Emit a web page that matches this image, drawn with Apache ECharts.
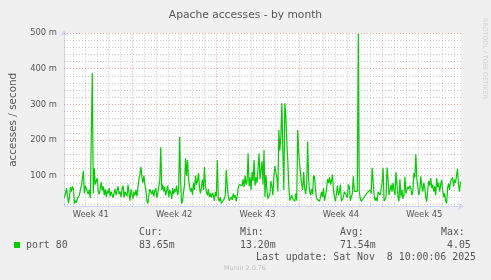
<!DOCTYPE html>
<html>
<head>
<meta charset="utf-8">
<script src="https://cdn.jsdelivr.net/npm/echarts@6/dist/echarts.min.js"></script>
<style>
html,body{margin:0;padding:0;background:#f0f0f0;}
#chart{width:491px;height:280px;}
</style>
</head>
<body>
<div id="chart"></div>
<script>
// ---- data ----
const chartTitle = 'Apache accesses - by month';
const yAxisTitle = 'accesses / second';
const weekLabels = ['Week 41', 'Week 42', 'Week 43', 'Week 44', 'Week 45'];
const yTickValues = [100, 200, 300, 400, 500];
const yTickLabels = ['100 m', '200 m', '300 m', '400 m', '500 m'];
const seriesName = 'port 80';
const legendHeads = ['Cur:', 'Min:', 'Avg:', 'Max:'];
const legendValues = ['83.65m', '13.20m', '71.54m', '4.05'];
const lastUpdate = 'Last update: Sat Nov  8 10:00:06 2025';
const footer = 'Munin 2.0.76';
const watermark = 'RRDTOOL / TOBI OETIKER';
// time axis in hours since Sun Oct 5 2025 00:00, one sample per 2 hours
const startHour = 30;
const stepHours = 2;
const endHour = 830;
const yMin = 13.2, yMax = 500;
// accesses per second, in milli units
const accesses = [
  37, 50, 65, 60, 22, 40, 68, 55, 70, 62,
  22, 30, 24, 37, 35, 45, 60, 72, 90, 114,
  50, 72, 68, 55, 48, 60, 37, 42, 388, 50,
  121, 75, 85, 93, 55, 48, 62, 82, 58, 70,
  45, 62, 40, 58, 50, 65, 42, 55, 60, 38,
  52, 63, 45, 58, 70, 48, 55, 40, 65, 72,
  38, 55, 60, 42, 75, 50, 30, 62, 48, 35,
  55, 45, 60, 42, 68, 90, 105, 125, 95, 80,
  100, 75, 60, 30, 22, 45, 62, 55, 48, 60,
  42, 58, 65, 38, 50, 70, 85, 180, 60, 75,
  55, 68, 45, 50, 72, 40, 60, 52, 35, 65,
  48, 62, 55, 72, 45, 60, 208, 80, 22, 30,
  55, 75, 149, 100, 144, 90, 70, 55, 65, 45,
  80, 60, 100, 75, 85, 107, 65, 50, 70, 88,
  60, 125, 72, 55, 45, 62, 40, 50, 38, 52,
  45, 30, 55, 42, 144, 35, 28, 40, 22, 25,
  22, 35, 45, 116, 70, 42, 30, 25, 40, 32,
  50, 38, 45, 28, 42, 65, 75, 70, 80, 72,
  90, 68, 100, 75, 85, 163, 70, 95, 60, 110,
  85, 144, 72, 95, 80, 120, 163, 90, 115, 140,
  75, 172, 40, 102, 60, 35, 30, 50, 85, 70,
  45, 100, 127, 110, 93, 55, 228, 170, 210, 303,
  168, 60, 303, 270, 196, 140, 70, 30, 28, 45,
  35, 40, 28, 50, 30, 228, 165, 130, 100, 75,
  60, 110, 65, 48, 75, 196, 90, 55, 45, 62,
  48, 102, 95, 58, 35, 30, 37, 28, 30, 55,
  40, 65, 30, 45, 60, 90, 80, 95, 75, 85,
  103, 60, 40, 28, 50, 72, 45, 55, 75, 28,
  30, 40, 55, 60, 45, 38, 75, 68, 30, 28,
  50, 98, 56, 56, 56, 56, 498, 56, 35, 28,
  30, 25, 40, 45, 38, 52, 48, 56, 60, 50,
  122, 85, 45, 30, 38, 28, 55, 60, 45, 62,
  80, 122, 28, 25, 40, 123, 90, 45, 60, 75,
  55, 80, 60, 45, 110, 75, 40, 28, 90, 41,
  60, 35, 45, 97, 50, 55, 69, 62, 72, 65,
  45, 55, 107, 95, 160, 90, 70, 45, 60, 98,
  70, 55, 80, 65, 40, 27, 60, 85, 72, 93,
  65, 75, 55, 70, 45, 93, 68, 80, 55, 75,
  88, 60, 40, 50, 30, 22, 65, 78, 60, 85,
  90, 95, 70, 88, 80, 100, 119, 75, 55, 84
];

// ---- build ----
const DAY = 24, WEEK = 168;
const seriesData = accesses.map((v, i) => [startHour + i * stepHours + stepHours / 2, v]);

const minorColor = 'rgba(150,150,150,0.5)';
const majorColor = 'rgba(225,90,90,0.55)';
const fontColor = '#555';
const gridLines = [];
for (let h = Math.ceil(startHour / DAY) * DAY; h < endHour; h += DAY) {
  gridLines.push({ xAxis: h, lineStyle: { color: h % WEEK === 0 ? majorColor : minorColor, type: [1, 2], width: 1 } });
}
for (let v = 20; v < yMax; v += 20) {
  if (yTickValues.indexOf(v) >= 0) continue;
  gridLines.push({ yAxis: v, lineStyle: { color: minorColor, type: [1, 2], width: 1 } });
}
yTickValues.forEach((v, k) => {
  gridLines.push({
    yAxis: v,
    lineStyle: { color: majorColor, type: [1, 2], width: 1 },
    label: { show: true, position: 'start', formatter: yTickLabels[k], color: fontColor,
      fontSize: 8.4, fontFamily: 'DejaVu Sans', distance: 7 }
  });
});

const chart = echarts.init(document.getElementById('chart'), null, { renderer: 'canvas' });
const legendFont = '9.9px "DejaVu Sans Mono"';
const headX = [139, 240, 340, 441];
const valX = [139, 240, 340, 447];
const graphics = [
  { type: 'rect', shape: { x: 14, y: 242, width: 6, height: 6 }, style: { fill: '#00cc00' } },
  { type: 'text', x: 26, y: 245.5, style: { text: seriesName, font: legendFont, fill: fontColor, verticalAlign: 'middle' } },
  { type: 'text', x: 256, y: 257, style: { text: lastUpdate, font: legendFont, fill: fontColor, verticalAlign: 'middle' } },
  { type: 'text', x: 245, y: 268, style: { text: footer, font: '6.4px "DejaVu Sans"', fill: '#c0c0c0', align: 'center', verticalAlign: 'middle' } },
  { type: 'text', x: 485, y: 58.5, rotation: -Math.PI / 2, style: { text: watermark, font: '6.3px "DejaVu Sans"', fill: '#d0d0d0', align: 'center', verticalAlign: 'middle' } }
];
legendHeads.forEach((t, k) => graphics.push({ type: 'text', x: headX[k], y: 232.5, style: { text: t, font: legendFont, fill: fontColor, verticalAlign: 'middle' } }));
legendValues.forEach((t, k) => graphics.push({ type: 'text', x: valX[k], y: 245.5, style: { text: t, font: legendFont, fill: fontColor, verticalAlign: 'middle' } }));

chart.setOption({
  animation: false,
  backgroundColor: '#f0f0f0',
  title: {
    text: chartTitle, left: 'center', top: 5,
    textStyle: { fontSize: 10.7, fontWeight: 'normal', color: fontColor, fontFamily: 'DejaVu Sans' }
  },
  grid: { left: 61, right: 30, top: 33, bottom: 73.4, show: true, backgroundColor: '#ffffff', borderWidth: 0 },
  xAxis: {
    type: 'value', min: startHour, max: endHour, interval: 6,
    axisLine: { lineStyle: { color: '#CFD6F8' }, symbol: ['none', 'arrow'], symbolSize: [6, 6], symbolOffset: [0, 3] },
    axisTick: { show: false },
    splitLine: { show: false },
    axisLabel: {
      color: fontColor, fontSize: 8.4, fontFamily: 'DejaVu Sans', margin: 4,
      formatter: function (v) {
        const k = (v - WEEK / 2) / WEEK;
        return (Number.isInteger(k) && k >= 0 && k < weekLabels.length) ? weekLabels[k] : '';
      }
    }
  },
  yAxis: {
    type: 'value', min: yMin, max: yMax,
    name: yAxisTitle, nameLocation: 'middle', nameGap: 46, nameRotate: 90,
    nameTextStyle: { color: fontColor, fontSize: 10.4, fontFamily: 'DejaVu Sans' },
    axisLine: { show: true, lineStyle: { color: '#CFD6F8' }, symbol: ['none', 'arrow'], symbolSize: [6, 6], symbolOffset: [0, 3] },
    axisTick: { show: false },
    axisLabel: { show: false },
    splitLine: { show: false }
  },
  series: [
    {
      type: 'line', name: 'grid', data: [], z: 1, silent: true,
      markLine: { silent: true, symbol: ['none', 'none'], animation: false, label: { show: false }, emphasis: { disabled: true }, data: gridLines }
    },
    {
      type: 'line', name: seriesName, data: seriesData, z: 3, showSymbol: false, symbol: 'none',
      lineStyle: { color: '#00cc00', width: 1.2 }, silent: true
    }
  ],
  graphic: graphics
});
</script>
</body>
</html>
